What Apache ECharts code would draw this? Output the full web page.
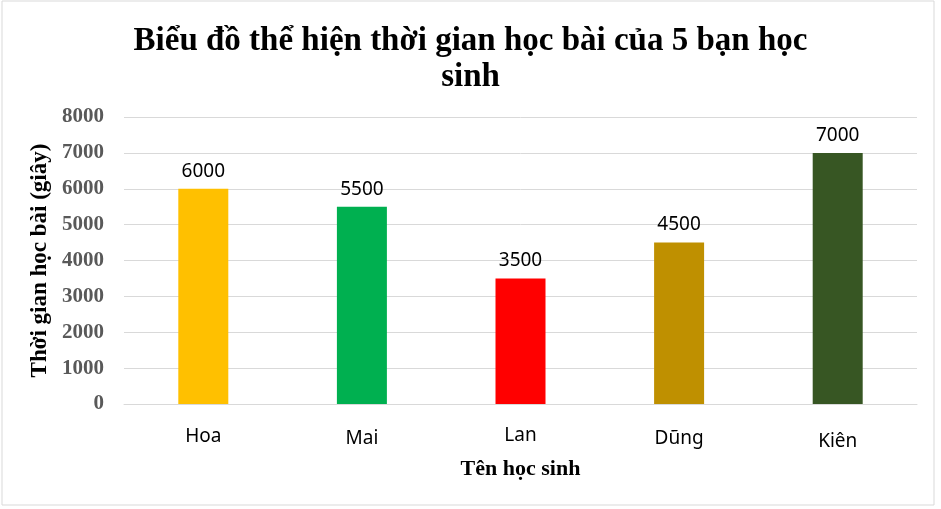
<!DOCTYPE html>
<html>
<head>
<meta charset="utf-8">
<script src="https://cdn.jsdelivr.net/npm/echarts@6/dist/echarts.min.js"></script>
<style>
html,body{margin:0;padding:0;background:#fff;}
#chart{width:941px;height:509px;}
</style>
</head>
<body>
<div id="chart"></div>
<script>
const titleText = 'Biểu đồ thể hiện thời gian học bài của 5 bạn học\nsinh';
const categories = ['Hoa', 'Mai', 'Lan', 'Dũng', 'Kiên'];
const values = [6000, 5500, 3500, 4500, 7000];
const yTicks = { min: 0, max: 8000, interval: 1000 };
const xAxisName = 'Tên học sinh';
const yAxisName = 'Thời gian học bài (giây)';

const barColors = ['#FFC000', '#00B050', '#FF0000', '#BF9000', '#375623'];
const labelShift = [1, 3, 0, 3, 6];

const chart = echarts.init(document.getElementById('chart'));
chart.setOption({
  animation: false,
  backgroundColor: '#ffffff',
  graphic: [{
    type: 'rect',
    shape: { x: 2, y: 1, width: 932, height: 504 },
    style: { fill: 'none', stroke: '#d9d9d9', lineWidth: 1 },
    silent: true
  }],
  title: {
    text: titleText,
    left: 'center',
    top: 23,
    padding: 0,
    textStyle: {
      fontFamily: 'Liberation Serif',
      fontWeight: 'bold',
      fontSize: 33,
      lineHeight: 36,
      color: '#000000'
    }
  },
  grid: { left: 124, right: 24, top: 117, bottom: 105 },
  xAxis: {
    type: 'category',
    data: categories.map((c, i) => ({ value: c, textStyle: { padding: [labelShift[i], 0, 0, 0] } })),
    name: xAxisName,
    nameLocation: 'middle',
    nameGap: 54,
    nameTextStyle: { fontFamily: 'Liberation Serif', fontWeight: 'bold', fontSize: 22, color: '#000000' },
    axisLine: { lineStyle: { color: '#d9d9d9', width: 1 } },
    axisTick: { show: false },
    axisLabel: {
      margin: 22,
      fontFamily: 'Noto Sans',
      fontSize: 19,
      color: '#000000'
    }
  },
  yAxis: {
    type: 'value',
    min: yTicks.min,
    max: yTicks.max,
    interval: yTicks.interval,
    name: yAxisName,
    nameLocation: 'middle',
    nameGap: 70,
    nameTextStyle: { fontFamily: 'Liberation Serif', fontWeight: 'bold', fontSize: 23, color: '#000000' },
    axisLine: { show: false },
    axisTick: { show: false },
    splitLine: { lineStyle: { color: '#d9d9d9', width: 1 } },
    axisLabel: {
      margin: 20,
      fontFamily: 'Liberation Serif',
      fontWeight: 'bold',
      fontSize: 21,
      color: '#595959',
      formatter: (v) => String(v)
    }
  },
  series: [{
    type: 'bar',
    barWidth: 50,
    data: values.map((v, i) => ({ value: v, itemStyle: { color: barColors[i] } })),
    label: {
      show: true,
      position: 'top',
      distance: 8,
      fontFamily: 'Noto Sans',
      fontSize: 19,
      color: '#000000'
    }
  }]
});
</script>
</body>
</html>
